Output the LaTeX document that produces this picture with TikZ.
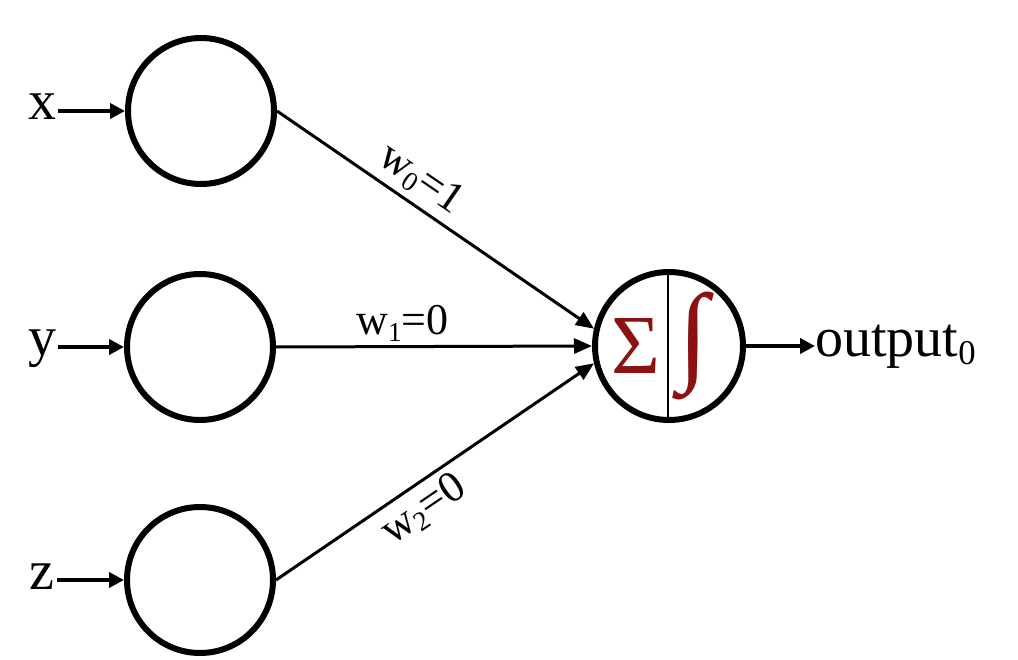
\documentclass[tikz,border=0pt]{standalone}
\usepackage{fontspec}
\usepackage{graphicx}
\setmainfont{Liberation Serif}
\usetikzlibrary{arrows.meta}
\definecolor{sigred}{RGB}{140,18,18}
\newcommand\mysub[1]{\raisebox{-0.14em}{\scalebox{0.62}{#1}}}
\begin{document}
\begin{tikzpicture}[x=1pt,y=-1pt,
  neuron/.style={circle,draw,line width=6pt,inner sep=0pt,minimum size=146pt},
  inlabel/.style={inner sep=2pt,font=\fontsize{56}{64}\selectfont},
  wlabel/.style={inner sep=6pt,font=\fontsize{44}{50}\selectfont},
  inarrow/.style={line width=4pt,-{Triangle[length=15pt,width=15pt]}},
  edge/.style={line width=3pt,-{Triangle[length=18pt,width=15pt]}}]
\useasboundingbox (0,0) rectangle (1018,660);
\node[neuron] (in0) at (201,111) {};
\node[neuron] (in1) at (200,347) {};
\node[neuron] (in2) at (200,580) {};
\node[neuron,minimum size=148pt] (out) at (669,346) {};
\coordinate (divtop) at (668,272);
\coordinate (divbot) at (668,420);
\draw[line width=2pt] (divtop) -- (divbot);
\node[text=sigred,inner sep=0pt,font=\fontsize{84}{90}\selectfont] (sig) at (636,346) {Σ};
\node[text=sigred,inner sep=0pt,font=\fontsize{110}{120}\selectfont] (int) at (694,346) {∫};
\node[inlabel,anchor=base] (xl) at (42,120) {x};
\node[inlabel,anchor=base] (yl) at (42,356) {y};
\node[inlabel,anchor=base] (zl) at (42,589) {z};
\draw[inarrow] (xl.east |- in0.west) -- (in0.west);
\draw[inarrow] (yl.east |- in1.west) -- (in1.west);
\draw[inarrow] (zl.east |- in2.west) -- (in2.west);
\draw[edge] (in0.east) -- node[wlabel,above,sloped,pos=0.41] {w\mysub{0}=1} (out.167);
\draw[edge] (in1.east) -- node[wlabel,above,pos=0.4,inner sep=4pt] {w\mysub{1}=0} (out.west);
\draw[edge] (in2.east) -- node[wlabel,below,sloped,pos=0.42] {w\mysub{2}=0} (out.193);
\node[inlabel,anchor=base west,inner sep=0pt] (ol) at (815,357) {output\mysub{0}};
\draw[inarrow] (out.east) -- (ol.west |- out.east);
\end{tikzpicture}
\end{document}
